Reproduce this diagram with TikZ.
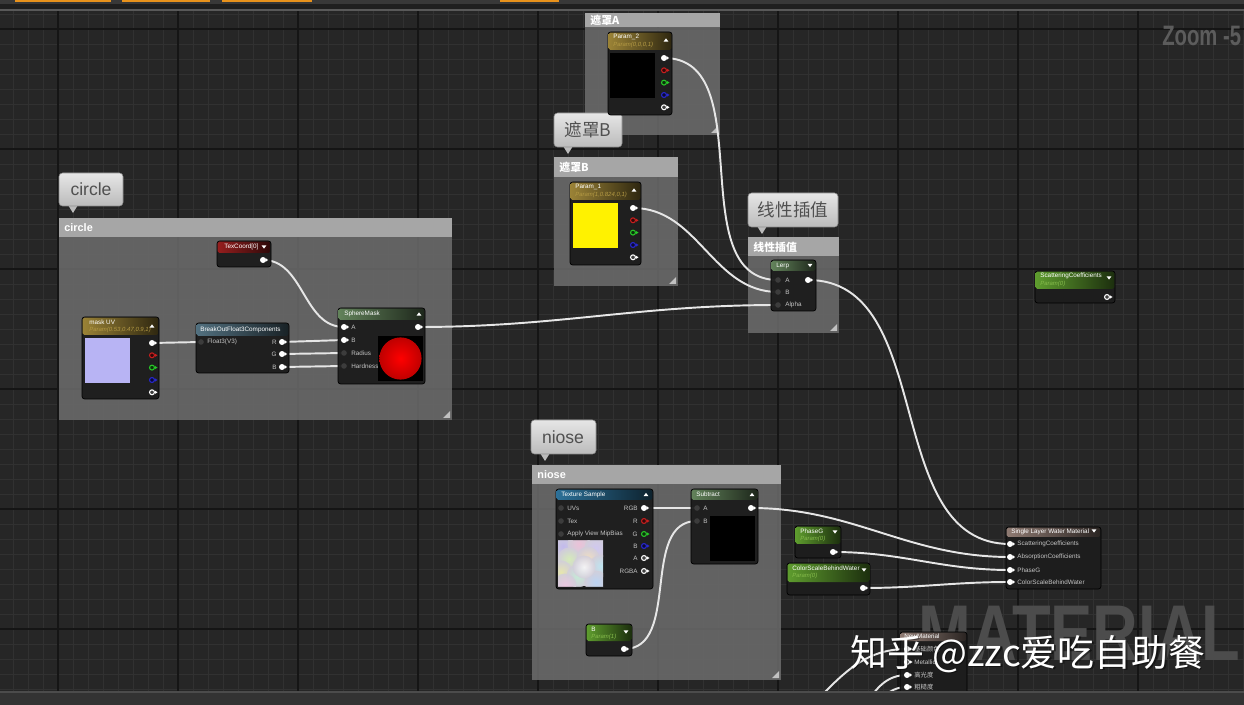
\documentclass[tikz,border=0pt]{standalone}
\usepackage{fontspec}
\usepackage{graphicx}
\setmainfont{Liberation Sans}
\newfontfamily\cjk{Noto Sans CJK SC}
\usetikzlibrary{calc}

\definecolor{canvas}{HTML}{262626}
\definecolor{gridminor}{HTML}{313131}
\definecolor{gridmajor}{HTML}{151515}
\definecolor{grpgray}{HTML}{6C6C6C}
\definecolor{grphd}{HTML}{A6A6A6}
\definecolor{bubtop}{HTML}{E6E6E6}
\definecolor{bubbot}{HTML}{BBBBBB}
\definecolor{bubedge}{HTML}{8E8E8E}
\definecolor{bubtxt}{HTML}{505050}
\definecolor{nodebg}{HTML}{1D1D1D}
\definecolor{wirecol}{HTML}{E6E6E6}
\definecolor{pintext}{HTML}{C4C4C4}
\definecolor{pindim}{HTML}{3C3C3C}
\definecolor{pinred}{HTML}{C81E1E}
\definecolor{pingreen}{HTML}{28C828}
\definecolor{pinblue}{HTML}{2828D2}
\definecolor{hdgold}{HTML}{9A8236}
\definecolor{hdmath}{HTML}{62825A}
\definecolor{hdparam}{HTML}{5E9C2E}
\definecolor{hdred}{HTML}{961E1E}
\definecolor{hdblue}{HTML}{2C7098}
\definecolor{hdslate}{HTML}{52707F}
\definecolor{hdbrown}{HTML}{8E7A72}
\definecolor{subgold}{HTML}{B49A44}
\definecolor{subgreen}{HTML}{86BC4C}
\definecolor{uiorange}{HTML}{E8921C}
\definecolor{uibar}{HTML}{383838}
\definecolor{wmgray}{HTML}{4C4C4C}
\definecolor{zoomgray}{HTML}{5C5C5C}
\definecolor{noisebase}{HTML}{D2CEDA}

\tikzset{
  wire/.style={draw=wirecol, line width=1.1pt},
  grpbody/.style={fill=grpgray, fill opacity=0.86},
  grphead/.style={fill=grphd},
  grpgrip/.style={fill=grphd!70!white},
  grptitle/.style={anchor=west, inner sep=0, text=white, font=\bfseries\fontsize{6.2}{6.2}\selectfont},
  bubble/.style={top color=bubtop, bottom color=bubbot, draw=bubedge, line width=0.3pt, rounded corners=2pt},
  bubtext/.style={inner sep=0, text=bubtxt, font=\fontsize{10}{10}\selectfont},
  nodebody/.style={fill=nodebg, fill opacity=0.96, draw=black, line width=0.4pt, rounded corners=1.5pt},
  ntitle/.style={anchor=west, inner sep=0, text=white, font=\fontsize{3.6}{4}\selectfont},
  nsub/.style={anchor=west, inner sep=0, font=\itshape\fontsize{3.4}{4}\selectfont},
  inlabel/.style={anchor=west, inner sep=0, text=pintext, font=\fontsize{3.6}{4}\selectfont},
  outlabel/.style={anchor=east, inner sep=0, text=pintext, font=\fontsize{3.6}{4}\selectfont},
}

% editor node: x1, y1, x2, y2, header bottom, header colour
\newcommand{\uebody}[6]{%
  \fill[nodebody] (#1,#2) rectangle (#3,#4);
  \shade[left color=#6, right color=#6!30!black, rounded corners=1pt] (#1+0.6,#2+0.6) rectangle (#3-0.6,#5);}
% comment group: x1, y1, x2, y2, header bottom
\newcommand{\uegroup}[5]{%
  \fill[grpbody] (#1,#2) rectangle (#3,#4);
  \fill[grphead] (#1,#2) rectangle (#3,#5);
  \fill[grpgrip] (#3-2,#4-9) -- (#3-2,#4-2) -- (#3-9,#4-2) -- cycle;}
% comment bubble: x1, y1, x2, y2
\newcommand{\uebubble}[4]{%
  \fill[bubbot] (#1+9,#4-1) -- (#1+14,#4+7) -- (#1+19,#4-1) -- cycle;
  \shade[bubble] (#1,#2) rectangle (#3,#4);}
% pins
\newcommand{\pinfull}[2]{%
  \fill[white] (#1,#2) circle (1.7pt);
  \fill[white] (#1+2.5,#2-2) -- (#1+5,#2) -- (#1+2.5,#2+2) -- cycle;}
\newcommand{\pinring}[3]{%
  \draw[#3, line width=0.6pt, fill=#3!25!black] (#1,#2) circle (1.4pt);
  \fill[#3] (#1+3,#2-1.6) -- (#1+5.5,#2) -- (#1+3,#2+1.6) -- cycle;}
\newcommand{\pindim}[2]{\fill[pindim] (#1,#2) circle (1.6pt);}
\newcommand{\rgbapins}[2]{%
  \pinfull{#1}{#2}
  \pinring{#1}{#2+12.3}{pinred}
  \pinring{#1}{#2+24.6}{pingreen}
  \pinring{#1}{#2+37}{pinblue}
  \pinring{#1}{#2+49.3}{white}}
% header arrows
\newcommand{\hdup}[2]{\fill[white] (#1-2.4,#2+1.6) -- (#1,#2-1.6) -- (#1+2.4,#2+1.6) -- cycle;}
\newcommand{\hddown}[2]{\fill[white] (#1-2.4,#2-1.6) -- (#1,#2+1.6) -- (#1+2.4,#2-1.6) -- cycle;}

\begin{document}
\begin{tikzpicture}[x=0.02cm,y=-0.02cm]
\useasboundingbox (0,0) rectangle (1244,705);

% canvas and grid
\fill[canvas] (0,0) rectangle (1244,705);
\foreach \gx in {13,28,...,1243} \draw[gridminor, line width=0.45pt] (\gx,10) -- (\gx,692);
\foreach \gy in {14,29,...,689} \draw[gridminor, line width=0.45pt] (0,\gy) -- (1244,\gy);
\foreach \gx in {58,178,...,1138} \draw[gridmajor, line width=0.7pt] (\gx,10) -- (\gx,692);
\foreach \gy in {29,149,...,629} \draw[gridmajor, line width=0.7pt] (0,\gy) -- (1244,\gy);

% background marks
\node[anchor=base west, inner sep=0, text=wmgray] (matmark) at (918,660)
  {\scalebox{0.8}[1]{\bfseries\fontsize{45}{45}\selectfont MATERIAL}};
\node[anchor=west, inner sep=0, text=zoomgray] (zoomtxt) at (1162,36)
  {\scalebox{0.72}[1]{\bfseries\fontsize{16}{16}\selectfont Zoom -5}};

% comment groups
\uegroup{585}{13}{720}{135}{27}
\node[grptitle] (grpA) at (590,20) {\cjk 遮罩A};
\uegroup{554}{157}{678}{286}{177}
\node[grptitle] (grpB) at (559,167) {\cjk 遮罩B};
\uegroup{748}{237}{839}{333}{256}
\node[grptitle] (grpLerp) at (753,247) {\cjk 线性插值};
\uegroup{59}{218}{452}{420}{237}
\node[grptitle] (grpCircle) at (64,228) {circle};
\uegroup{532}{465}{781}{680}{484}
\node[grptitle] (grpNoise) at (537,475) {niose};

% bubbles
\uebubble{554}{113}{622}{147}
\node[bubtext] (bubB) at (588,130) {\cjk 遮罩B};
\uebubble{748}{193}{838}{227}
\node[bubtext] (bubLerp) at (793,210) {\cjk 线性插值};
\uebubble{59}{173}{123}{206}
\node[bubtext] (bubCircle) at (91,189) {circle};
\uebubble{531}{420}{596}{454}
\node[bubtext] (bubNoise) at (563,437) {niose};

% pin positions
\coordinate (p2out) at (664,58);
\coordinate (p1out) at (633,208);
\coordinate (uvout) at (152,343);
\coordinate (texout) at (263,260);
\coordinate (brkin) at (201,342);
\coordinate (brkR) at (282,342);
\coordinate (brkG) at (282,354);
\coordinate (brkB) at (282,367);
\coordinate (smA) at (344,327);
\coordinate (smB) at (344,340);
\coordinate (smRad) at (344,353);
\coordinate (smHard) at (344,366);
\coordinate (smout) at (418,327);
\coordinate (lerpA) at (778,280);
\coordinate (lerpB) at (778,292);
\coordinate (lerpAlpha) at (778,305);
\coordinate (lerpout) at (808,280);
\coordinate (tsRGB) at (644,508);
\coordinate (subA) at (697,508);
\coordinate (subB) at (697,521);
\coordinate (subout) at (751,508);
\coordinate (bout) at (624,649);
\coordinate (phout) at (833,552);
\coordinate (csout) at (863,588);
\coordinate (wScat) at (1010,544);
\coordinate (wAbs) at (1010,557);
\coordinate (wPhase) at (1010,570);
\coordinate (wColor) at (1010,582);
\coordinate (mBase) at (907,649);
\coordinate (mSpec) at (907,675);
\coordinate (mRough) at (907,687);
\coordinate (offa) at (812,705);
\coordinate (offb) at (866,705);
\coordinate (offc) at (876,705);

% wires
\draw[wire] (p2out) to[out=0,in=180] (lerpA);
\draw[wire] (p1out) to[out=0,in=180] (lerpB);
\draw[wire] (smout) to[out=0,in=180] (lerpAlpha);
\draw[wire] (texout) to[out=0,in=180] (smA);
\draw[wire] (uvout) -- (brkin);
\draw[wire] (brkR) -- (smB);
\draw[wire] (brkG) -- (smRad);
\draw[wire] (brkB) -- (smHard);
\draw[wire] (lerpout) to[out=0,in=180] (wScat);
\draw[wire] (tsRGB) -- (subA);
\draw[wire] (bout) to[out=0,in=180] (subB);
\draw[wire] (subout) to[out=0,in=180] (wAbs);
\draw[wire] (phout) to[out=0,in=180] (wPhase);
\draw[wire] (csout) to[out=0,in=180] (wColor);
\draw[wire] (offa) to[out=45,in=180] (mBase);
\draw[wire] (offb) to[out=60,in=180] (mSpec);
\draw[wire] (offc) to[out=50,in=180] (mRough);

% Param_2
\uebody{608}{32}{672}{115}{50}{hdgold}
\node[ntitle] (p2title) at (613,37) {Param\_2};
\node[nsub, text=subgold] (p2sub) at (613,45) {Param(0,0,0,1)};
\hdup{666}{40}
\fill[black] (610,53) rectangle (655,98);
\rgbapins{664}{58}

% Param_1
\uebody{570}{182}{641}{265}{200}{hdgold}
\node[ntitle] (p1title) at (575,187) {Param\_1};
\node[nsub, text=subgold] (p1sub) at (575,195) {Param(1,0.824,0,1)};
\hdup{634}{190}
\fill[yellow] (573,203) rectangle (618,248);
\rgbapins{633}{208}

% TexCoord[0]
\uebody{217}{241}{271}{267}{253}{hdred}
\node[ntitle] (texttitle) at (224,247) {TexCoord[0]};
\hddown{264}{247}
\pinfull{263}{260}

% mask UV
\uebody{82}{317}{159}{399}{335}{hdgold}
\node[ntitle] (uvtitle) at (89,322) {mask UV};
\node[nsub, text=subgold] (uvsub) at (89,330) {Param(0.53,0.47,0.9,1)};
\hdup{152}{326}
\fill[fill={rgb,255:red,184;green,180;blue,244}] (85,338) rectangle (130,383);
\rgbapins{152}{343}

% BreakOutFloat3Components
\uebody{196}{323}{289}{373}{336}{hdslate}
\node[ntitle] (brktitle) at (200,330) {BreakOutFloat3Components};
\pindim{201}{342}
\node[inlabel] (brkinl) at (207,342) {Float3(V3)};
\foreach \yy/\ll in {342/R,354/G,367/B}{
  \pinfull{282}{\yy}
  \node[outlabel] at (277,\yy) {\ll};}

% SphereMask
\uebody{338}{308}{425}{384}{320}{hdmath}
\node[ntitle] (smtitle) at (344,314) {SphereMask};
\hdup{419}{314}
\pinfull{344}{327}
\pinfull{344}{340}
\pindim{344}{353}
\pindim{344}{366}
\node[inlabel] (smlA) at (351,327) {A};
\node[inlabel] (smlB) at (351,340) {B};
\node[inlabel] (smlR) at (351,353) {Radius};
\node[inlabel] (smlH) at (351,366) {Hardness};
\pinfull{418}{327}
\fill[black] (378,336) rectangle (423,381);
\shade[inner color=red, outer color=red!75!black] (400.5,358.5) circle (12pt);

% Lerp
\uebody{771}{260}{816}{311}{271}{hdmath}
\node[ntitle] (lerptitle) at (776,265.5) {Lerp};
\hddown{810}{265.5}
\foreach \yy/\ll in {280/A,292/B,305/Alpha}{
  \pindim{778}{\yy}
  \node[inlabel] at (785,\yy) {\ll};}
\pinfull{808}{280}

% Texture Sample
\uebody{556}{489}{653}{589}{500}{hdblue}
\node[ntitle] (tstitle) at (561,494.5) {Texture Sample};
\hdup{646}{494.5}
\foreach \yy/\ll in {508/UVs,521/Tex,534/Apply View MipBias}{
  \pindim{561}{\yy}
  \node[inlabel] at (567,\yy) {\ll};}
\foreach \yy/\ll in {508/RGB,521/R,534/G,546/B,558/A,571/RGBA}
  \node[outlabel] at (638,\yy) {\ll};
\pinfull{644}{508}
\pinring{644}{521}{pinred}
\pinring{644}{534}{pingreen}
\pinring{644}{546}{pinblue}
\pinring{644}{558}{white}
\pinring{644}{571}{white}
\begin{scope}
  \clip (558,541) rectangle (603,586);
  \fill[noisebase] (558,541) rectangle (603,586);
  \foreach \bx/\by/\bc in {563/546/{rgb,255:red,192;green,184;blue,240},
      579/544/{rgb,255:red,240;green,192;blue,216},
      596/548/{rgb,255:red,208;green,200;blue,244},
      569/559/{rgb,255:red,214;green,240;blue,180},
      588/558/{rgb,255:red,244;green,224;blue,192},
      601/566/{rgb,255:red,188;green,232;blue,244},
      561/572/{rgb,255:red,234;green,234;blue,168},
      578/576/{rgb,255:red,196;green,240;blue,214},
      596/582/{rgb,255:red,184;green,214;blue,248},
      565/585/{rgb,255:red,240;green,200;blue,226},
      584/567/{rgb,255:red,250;green,250;blue,250}}
    \shade[inner color=\bc, outer color=noisebase, opacity=0.85] (\bx,\by) circle (6.5pt);
\end{scope}

% Subtract
\uebody{691}{489}{758}{564}{500}{hdmath}
\node[ntitle] (subtitle) at (696,494.5) {Subtract};
\hdup{752}{494.5}
\pindim{697}{508}
\pindim{697}{521}
\node[inlabel] (sublA) at (703,508) {A};
\node[inlabel] (sublB) at (703,521) {B};
\pinfull{751}{508}
\fill[black] (710,516) rectangle (755,561);

% B parameter
\uebody{586}{624}{632}{656}{641}{hdparam}
\node[ntitle] (btitle) at (591,629) {B};
\node[nsub, text=subgreen] (bsub) at (591,637) {Param(1)};
\hddown{626}{632}
\pinfull{624}{649}

% PhaseG
\uebody{795}{526}{841}{558}{544}{hdparam}
\node[ntitle] (phtitle) at (800,531) {PhaseG};
\node[nsub, text=subgreen] (phsub) at (800,539) {Param(0)};
\hddown{835}{532}
\pinfull{833}{552}

% ColorScaleBehindWater
\uebody{787}{563}{870}{595}{582}{hdparam}
\node[ntitle] (cstitle) at (792,568) {ColorScaleBehindWater};
\node[nsub, text=subgreen] (cssub) at (792,576) {Param(0)};
\hddown{864}{570}
\pinfull{863}{588}

% ScatteringCoefficients
\uebody{1035}{271}{1115}{303}{289}{hdparam}
\node[ntitle] (sctitle) at (1040,276) {ScatteringCoefficients};
\node[nsub, text=subgreen] (scsub) at (1040,284) {Param(0)};
\hddown{1109}{278}
\pinring{1107}{297}{white}

% Single Layer Water Material
\uebody{1006}{527}{1101}{589}{537}{hdbrown}
\node[ntitle] (wtitle) at (1011,532) {Single Layer Water Material};
\hddown{1094}{531}
\foreach \yy/\ll in {544/ScatteringCoefficients,557/AbsorptionCoefficients,570/PhaseG,582/ColorScaleBehindWater}{
  \pinfull{1010}{\yy}
  \node[inlabel] at (1017,\yy) {\ll};}

% main material node (partly off screen)
\uebody{900}{632}{967}{705}{641}{hdbrown}
\node[ntitle] (mtitle) at (904,636.5) {NewMaterial};
\pinfull{907}{649}
\pinring{907}{662}{white}
\pinfull{907}{675}
\pinfull{907}{687}
\node[inlabel] (mlbase) at (914,649) {\cjk 基础颜色};
\node[inlabel] (mlmetal) at (914,662) {Metallic};
\node[inlabel] (mlspec) at (914,675) {\cjk 高光度};
\node[inlabel] (mlrough) at (914,687) {\cjk 粗糙度};

% watermark
\node[anchor=base west, inner sep=0, text=black, opacity=0.45] (wmshadow) at (851.5,667.5)
  {\cjk\fontsize{21}{21}\selectfont 知乎 @zzc爱吃自助餐};
\node[anchor=base west, inner sep=0, text=white] (wmtext) at (850,666)
  {\cjk\fontsize{21}{21}\selectfont 知乎 @zzc爱吃自助餐};

% editor frame
\fill[uibar] (0,0) rectangle (1244,4.5);
\foreach \xa/\xb in {15/111,122/210,222/312,500/559}
  \fill[uiorange] (\xa,0) rectangle (\xb,2.5);
\fill[black!88] (0,4.5) rectangle (1244,9.5);
\fill[black!65] (0,9.5) rectangle (1244,11);
\fill[black!80] (0,692) rectangle (1244,705);
\fill[black!70] (0,691) rectangle (1244,693);
\end{tikzpicture}
\end{document}
